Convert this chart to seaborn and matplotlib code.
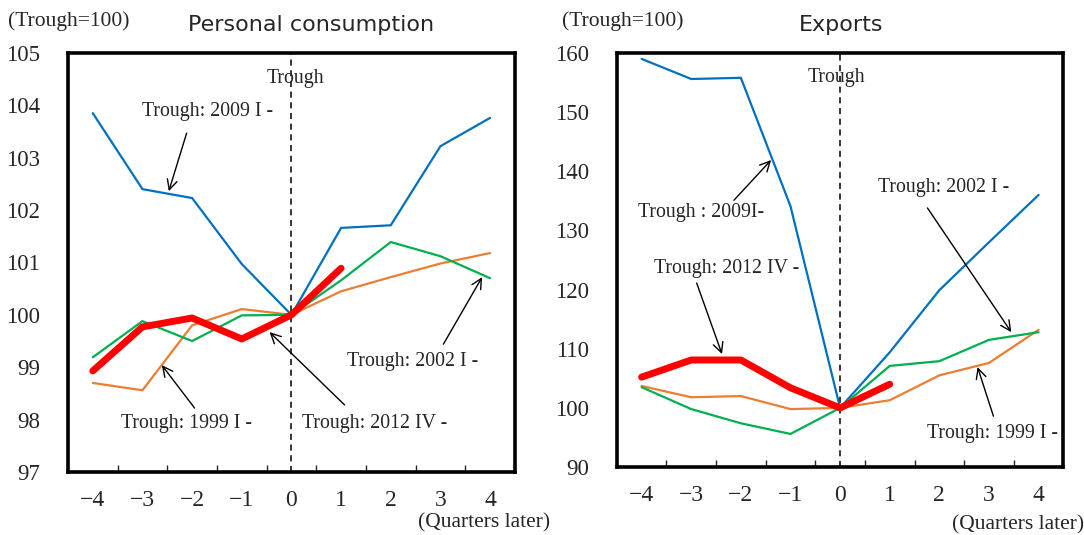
import numpy as np
import pandas as pd
import matplotlib
matplotlib.use("Agg")
import matplotlib.pyplot as plt
import seaborn as sns

quarters = [-4, -3, -2, -1, 0, 1, 2, 3, 4]
tick_labels = ["\u22124", "\u22123", "\u22122", "\u22121", "0", "1", "2", "3", "4"]

# Personal consumption (Trough = 100)
pc_2009 = [103.85, 102.40, 102.23, 100.97, 100.0, 101.66, 101.71, 103.22, 103.76]
pc_1999 = [98.70, 98.56, 99.80, 100.11, 100.0, 100.45, 100.72, 100.98, 101.18]
pc_2002 = [99.19, 99.88, 99.50, 99.99, 100.0, 100.66, 101.39, 101.12, 100.70]
pc_2012 = [98.93, 99.77, 99.94, 99.54, 100.0, 100.89]

# Exports (Trough = 100)
ex_2009 = [159.0, 155.6, 155.8, 134.1, 100.0, 109.4, 119.9, 128.0, 136.0]
ex_1999 = [103.7, 101.8, 102.0, 99.8, 100.0, 101.3, 105.5, 107.6, 113.2]
ex_2002 = [103.5, 99.8, 97.4, 95.6, 100.0, 107.1, 107.9, 111.5, 112.8]
ex_2012 = [105.2, 108.1, 108.1, 103.4, 100.0, 104.0]

colors = {"2009": "#0070C0", "1999": "#ED7D31", "2002": "#00B050", "2012": "#FF0000"}

sns.set_style("white")
plt.rcParams["font.family"] = ["Liberation Serif", "DejaVu Serif"]

fig = plt.figure(figsize=(10.84, 5.35), dpi=100)
axL = fig.add_axes([0.0627, 0.1178, 0.4123, 0.7832])
axR = fig.add_axes([0.569, 0.127, 0.412, 0.774])

FS = 14.3


def draw(ax, series, ylim, yticks):
    for key, vals, lw in series:
        df = pd.DataFrame({"q": quarters[:len(vals)], "v": vals})
        sns.lineplot(data=df, x="q", y="v", ax=ax, color=colors[key], linewidth=lw,
                     solid_joinstyle="miter" if lw < 3 else "round", zorder=3 if key == "2012" else 2)
    ax.axvline(0, color="black", linestyle=(0, (4, 3)), linewidth=1.1, zorder=1)
    ax.set_xlim(-4.5, 4.5)
    ax.set_ylim(*ylim)
    ax.set_yticks(yticks)
    ax.set_yticklabels([str(t) for t in yticks])
    ax.set_xticks(quarters)
    ax.set_xticklabels(tick_labels)
    ax.set_xticks(np.arange(-3.5, 4.0, 1.0), minor=True)
    ax.tick_params(axis="x", which="major", length=0, pad=13, labelsize=17)
    ax.tick_params(axis="x", which="minor", direction="in", length=5, width=1, bottom=True)
    ax.tick_params(axis="y", length=0, pad=20, labelsize=16.5)
    ax.set_xlabel("")
    ax.set_ylabel("")
    for s in ax.spines.values():
        s.set_linewidth(2.6)
        s.set_color("black")
        s.set_visible(True)


draw(axL, [("2009", pc_2009, 1.6), ("1999", pc_1999, 1.6), ("2002", pc_2002, 1.6), ("2012", pc_2012, 5.0)],
     (97, 105), list(range(97, 106)))
draw(axR, [("2009", ex_2009, 1.6), ("1999", ex_1999, 1.6), ("2002", ex_2002, 1.6), ("2012", ex_2012, 5.0)],
     (90, 160), list(range(90, 161, 10)))

arrow = dict(arrowstyle="->", color="black", lw=1.0, mutation_scale=18, shrinkA=0, shrinkB=0)

# Left annotations
axL.text(0.08, 104.52, "Trough", fontsize=FS, ha="center", va="center")
axL.text(-1.69, 103.89, "Trough: 2009 I -", fontsize=FS, ha="center", va="center")
axL.annotate("", xy=(-2.47, 102.36), xytext=(-2.11, 103.47), arrowprops=arrow)
axL.text(-2.11, 97.92, "Trough: 1999 I -", fontsize=FS, ha="center", va="center")
axL.annotate("", xy=(-2.61, 99.04), xytext=(-1.95, 98.22), arrowprops=arrow)
axL.text(1.67, 97.92, "Trough: 2012 IV -", fontsize=FS, ha="center", va="center")
axL.annotate("", xy=(-0.44, 99.67), xytext=(1.07, 98.28), arrowprops=arrow)
axL.text(2.45, 99.1, "Trough: 2002 I -", fontsize=FS, ha="center", va="center")
axL.annotate("", xy=(3.84, 100.72), xytext=(3.06, 99.44), arrowprops=arrow)

# Right annotations
axR.text(-0.08, 155.8, "Trough", fontsize=FS, ha="center", va="center")
axR.text(-2.81, 133.1, "Trough : 2009I-", fontsize=FS, ha="center", va="center")
axR.annotate("", xy=(-1.39, 141.9), xytext=(-2.14, 135.1), arrowprops=arrow)
axR.text(-2.28, 123.6, "Trough: 2012 IV -", fontsize=FS, ha="center", va="center")
axR.annotate("", xy=(-2.38, 109.1), xytext=(-2.89, 121.1), arrowprops=arrow)
axR.text(2.08, 137.2, "Trough: 2002 I -", fontsize=FS, ha="center", va="center")
axR.annotate("", xy=(3.45, 112.8), xytext=(1.76, 133.8), arrowprops=arrow)
axR.text(3.07, 95.7, "Trough: 1999 I -", fontsize=FS, ha="center", va="center")
axR.annotate("", xy=(2.77, 106.9), xytext=(3.09, 98.6), arrowprops=arrow)

# Titles and unit labels
fig.text(311 / 1084, 1 - 25 / 535, "Personal consumption", family=["DejaVu Sans"], fontsize=16,
         ha="center", va="center")
fig.text(841 / 1084, 1 - 25 / 535, "Exports", family=["DejaVu Sans"], fontsize=16,
         ha="center", va="center")
fig.text(8 / 1084, 1 - 21 / 535, "(Trough=100)", fontsize=15.5, ha="left", va="center")
fig.text(562 / 1084, 1 - 21 / 535, "(Trough=100)", fontsize=15.5, ha="left", va="center")
fig.text(550 / 1084, 1 - 523 / 535, "(Quarters later)", fontsize=15.5, ha="right", va="center")
fig.text(1084 / 1084, 1 - 525 / 535, "(Quarters later)", fontsize=15.5, ha="right", va="center")

fig.savefig("out.png", dpi=100)
